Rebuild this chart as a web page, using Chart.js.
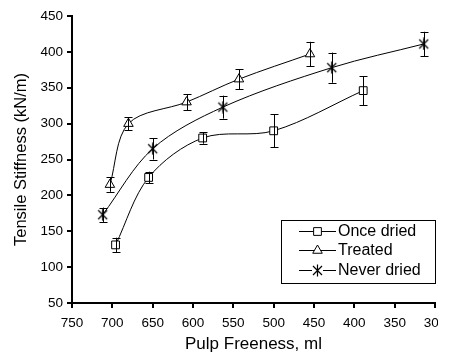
<!DOCTYPE html>
<html>
<head>
<meta charset="utf-8">
<script src="https://cdn.jsdelivr.net/npm/chart.js@4.4.1/dist/chart.umd.min.js"></script>
<style>
  html, body { margin: 0; padding: 0; background: #fff; overflow: hidden; }
  #wrap { position: relative; width: 451px; height: 355px; }
  #cut { position: absolute; left: 438px; top: 0; width: 13px; height: 355px; background: #fff; }
</style>
</head>
<body>
<div id="wrap"><canvas id="chart" width="451" height="355"></canvas><div id="cut"></div></div>
<script>
// pulp freeness (ml) and tensile stiffness (kN/m)
var freenessOnce = [696, 655, 588, 500, 389];
var stiffnessOnce = [131, 225, 280, 290, 346];
var errorOnce = [10, 8, 8, 23, 20];

var freenessTreated = [703, 680, 608, 543, 455];
var stiffnessTreated = [215, 300, 330, 362, 397];
var errorTreated = [10, 9, 11, 14, 17];

var freenessNever = [712, 650, 563, 428, 314];
var stiffnessNever = [173, 265, 323, 378, 411];
var errorNever = [10, 15, 16, 21, 17];

var seriesNames = ["Once dried", "Treated", "Never dried"];
var xTicks = [750, 700, 650, 600, 550, 500, 450, 400, 350, 300];
var yTicks = [50, 100, 150, 200, 250, 300, 350, 400, 450];

var FONT = "'Liberation Sans', Arial, sans-serif";

function toPoints(xs, ys) {
  return xs.map(function (x, i) { return { x: x, y: ys[i] }; });
}

// asterisk marker: X with a vertical stroke
function makeAsterisk() {
  var c = document.createElement("canvas");
  c.width = 13;
  c.height = 13;
  var g = c.getContext("2d");
  g.strokeStyle = "#000";
  g.lineWidth = 1.2;
  g.beginPath();
  g.moveTo(2, 2); g.lineTo(11, 11);
  g.moveTo(11, 2); g.lineTo(2, 11);
  g.moveTo(6.5, 0.5); g.lineTo(6.5, 12.5);
  g.stroke();
  return c;
}
var asterisk = makeAsterisk();

var errors = [errorOnce, errorTreated, errorNever];

var errorBars = {
  id: "errorBars",
  afterDatasetsDraw: function (chart) {
    var ctx = chart.ctx;
    var xs = chart.scales.x, ys = chart.scales.y;
    ctx.save();
    ctx.strokeStyle = "#000";
    ctx.lineWidth = 1;
    chart.data.datasets.forEach(function (ds, di) {
      ds.data.forEach(function (p, i) {
        var e = errors[di][i];
        var px = Math.round(xs.getPixelForValue(p.x)) + 0.5;
        var top = ys.getPixelForValue(p.y + e);
        var bot = ys.getPixelForValue(p.y - e);
        ctx.beginPath();
        ctx.moveTo(px, top); ctx.lineTo(px, bot);
        ctx.moveTo(px - 4, Math.round(top) + 0.5); ctx.lineTo(px + 4, Math.round(top) + 0.5);
        ctx.moveTo(px - 4, Math.round(bot) + 0.5); ctx.lineTo(px + 4, Math.round(bot) + 0.5);
        ctx.stroke();
      });
    });
    ctx.restore();
  }
};

var boxLegend = {
  id: "boxLegend",
  afterDraw: function (chart) {
    var ctx = chart.ctx;
    var bx = 281, by = 220, bw = 154, bh = 63;
    ctx.save();
    ctx.fillStyle = "#fff";
    ctx.fillRect(bx, by, bw, bh);
    ctx.strokeStyle = "#000";
    ctx.lineWidth = 1;
    ctx.strokeRect(bx + 0.5, by + 0.5, bw, bh);
    ctx.font = "16px " + FONT;
    ctx.textBaseline = "middle";
    chart.data.datasets.forEach(function (ds, i) {
      var y = by + 10.5 + i * 19.5;
      var yl = Math.round(y) + 0.5;
      ctx.beginPath();
      ctx.moveTo(299, yl); ctx.lineTo(336, yl);
      ctx.stroke();
      if (ds.pointStyle === asterisk) {
        ctx.fillStyle = "#fff";
        ctx.fillRect(312, yl - 6, 11, 12);
        ctx.drawImage(asterisk, 317.5 - 6.5, yl - 6.5);
      } else {
        ctx.fillStyle = "#fff";
        Chart.helpers.drawPoint(ctx, {
          pointStyle: ds.pointStyle, radius: ds.pointRadius, borderWidth: 1, rotation: 0
        }, 317.5, yl);
      }
      ctx.fillStyle = "#000";
      ctx.fillText(ds.label, 338, y + 1);
    });
    ctx.restore();
  }
};

function series(label, xs, ys, style, radius) {
  return {
    label: label,
    data: toPoints(xs, ys),
    borderColor: "#000",
    borderWidth: 1,
    tension: 0.33,
    pointStyle: style,
    pointRadius: radius,
    pointHoverRadius: radius,
    pointBorderColor: "#000",
    pointBackgroundColor: "#fff",
    pointBorderWidth: 1
  };
}

var ctx = document.getElementById("chart").getContext("2d");
var myChart = new Chart(ctx, {
  type: "line",
  data: {
    datasets: [
      series(seriesNames[0], freenessOnce, stiffnessOnce, "rect", 5.5),
      series(seriesNames[1], freenessTreated, stiffnessTreated, "triangle", 5.5),
      series(seriesNames[2], freenessNever, stiffnessNever, asterisk, 6)
    ]
  },
  options: {
    responsive: false,
    animation: false,
    events: [],
    layout: { padding: { top: 16, right: 16, bottom: 0, left: 0 } },
    plugins: { legend: { display: false }, tooltip: { enabled: false } },
    scales: {
      x: {
        type: "linear",
        reverse: true,
        min: 300,
        max: 750,
        afterBuildTicks: function (s) { s.ticks = xTicks.map(function (v) { return { value: v }; }); },
        afterFit: function (s) { s.paddingLeft = 0; s.paddingRight = 0; s.height = 52; },
        grid: { drawOnChartArea: false, drawTicks: true, tickLength: 5, color: "#000", lineWidth: 2 },
        border: { color: "#000", width: 2 },
        ticks: { color: "#000", font: { family: FONT, size: 13.5 }, padding: 7, maxRotation: 0, autoSkip: false },
        title: { display: true, text: "Pulp Freeness, ml", color: "#000", font: { family: FONT, size: 17 }, padding: { top: 0, bottom: 0 } }
      },
      y: {
        min: 50,
        max: 450,
        afterBuildTicks: function (s) { s.ticks = yTicks.map(function (v) { return { value: v }; }); },
        afterFit: function (s) { s.width = 72; },
        grid: { drawOnChartArea: false, drawTicks: true, tickLength: 5, color: "#000", lineWidth: 2 },
        border: { color: "#000", width: 2 },
        ticks: { color: "#000", font: { family: FONT, size: 13.5 }, padding: 4, autoSkip: false },
        title: { display: true, text: "Tensile Stiffness (kN/m)", color: "#000", font: { family: FONT, size: 16.5 }, padding: { top: 11.5, bottom: 0 } }
      }
    }
  },
  plugins: [errorBars, boxLegend]
});
</script>
</body>
</html>
